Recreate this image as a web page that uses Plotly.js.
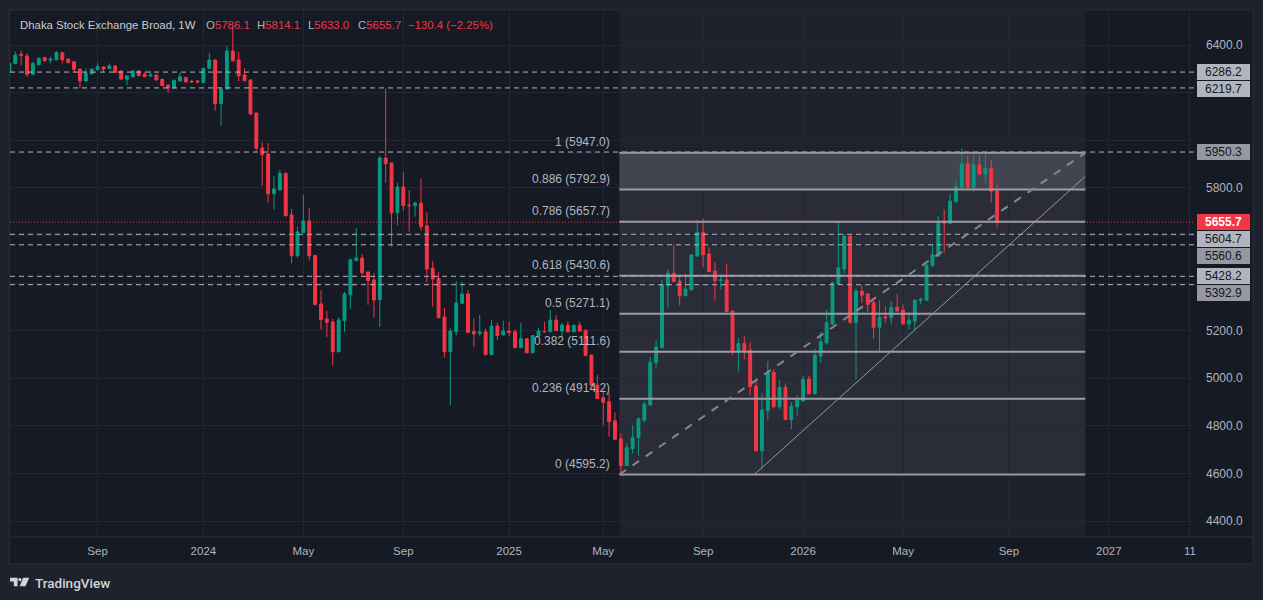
<!DOCTYPE html>
<html><head><meta charset="utf-8">
<script src="https://cdn.plot.ly/plotly-3.0.1.min.js"></script>
<style>html,body{margin:0;padding:0;background:#1e222d;overflow:hidden}#chart{width:1263px;height:600px}</style>
</head><body><div id="chart"></div>
<script>
// Weekly OHLC (Dhaka Stock Exchange Broad, 1W), bar 0 .. bar 168
const openP = [
6285,6322,6361,6354,6277,6317,6347,6336,6338,6368,6341,6330,6299,6249,6279,6296,6308,6301,6312,6291,6257,6266,6291,6277,6270,6274,6256,6232,6219,
6249,6264,6248,6249,6242,6301,6337,6154,6215,6375,6337,6274,6253,6114,5967,5942,5775,5791,5861,5686,5515,5612,5661,5516,
5312,5249,5236,5111,5242,5350,5494,5505,5446,5413,5329,5925,5904,5695,5803,5727,5725,5736,5640,5462,5420,5257,5111,5196,
5315,5354,5196,5188,5195,5099,5219,5182,5198,5195,5128,5166,5107,5178,5196,5195,5244,5198,5223,5195,5223,5202,5097,4971,4918,4901,4821,4745,4633,4704,
4750,4824,4887,5065,5128,5389,5441,5408,5347,5371,5513,5613,5522,5450,5410,5413,5282,5114,5146,5118,4967,4695,4863,5025,4880,4962,4827,4880,4905,
4997,4935,5093,5149,5227,5396,5459,5597,5235,5366,5354,5317,5214,5258,5254,5298,5286,5228,5240,5326,5328,5472,5513,5660,5651,5741,5801,5900,5801,5896,5858,5882,5786.1];
const highP = [
6323,6372,6376,6365,6330,6346,6350,6351,6375,6370,6343,6332,6300,6302,6300,6323,6310,6323,6314,6293,6270,6292,6293,6285,6291,6276,6258,6234,6253,
6285,6266,6252,6253,6304,6366,6339,6222,6396,6478,6371,6302,6255,6116,5991,5987,5850,5875,5863,5711,5637,5770,5714,5518,
5370,5282,5249,5256,5362,5504,5631,5522,5448,5443,5934,6218,5906,5821,5866,5791,5742,5838,5698,5492,5445,5295,5209,5408,
5406,5371,5252,5266,5209,5245,5233,5242,5238,5205,5233,5168,5181,5212,5238,5287,5266,5233,5238,5228,5238,5204,5099,5013,4955,4939,4856,4768,4726,4803,
4836,4901,5090,5160,5413,5457,5560,5424,5438,5522,5665,5672,5550,5487,5436,5480,5284,5170,5177,5151,4999,4939,5072,5037,4992,4978,4899,4929,5010,
5010,5125,5195,5289,5405,5653,5606,5599,5377,5391,5356,5328,5328,5303,5324,5354,5310,5277,5330,5340,5478,5564,5681,5707,5774,5828,5965,5934,5938,5938,5945,5917,5814.1];
const lowP = [
6280,6320,6315,6267,6272,6315,6330,6323,6336,6323,6324,6284,6218,6245,6277,6294,6285,6299,6283,6255,6231,6264,6269,6265,6267,6251,6227,6200,6217,
6247,6243,6240,6238,6240,6299,6124,6061,6213,6330,6249,6248,6106,5956,5809,5738,5708,5789,5679,5483,5507,5610,5494,5306,
5205,5174,5055,5109,5195,5291,5492,5434,5308,5254,5216,5821,5553,5641,5704,5616,5679,5620,5404,5301,5252,5086,4887,5180,
5312,5190,5130,5175,5097,5097,5161,5180,5177,5126,5126,5105,5105,5176,5193,5193,5198,5175,5193,5193,5196,5093,4967,4913,4803,4754,4741,4595.2,4631,4684,
4673,4813,4885,5044,5126,5296,5404,5305,5343,5369,5511,5466,5446,5326,5373,5278,5097,5027,5079,4927,4693,4617,4822,4873,4870,4825,4786,4843,4900,
4930,4930,5065,5140,5225,5394,5440,5228,4995,5317,5279,5165,5111,5233,5226,5279,5226,5205,5200,5310,5326,5470,5511,5527,5649,5739,5799,5799,5781,5856,5821,5739,5633.0];
const closeP = [
6323,6358,6357,6277,6322,6344,6334,6341,6368,6338,6326,6298,6249,6281,6299,6309,6299,6312,6285,6257,6270,6291,6271,6267,6274,6253,6229,6219,6252,
6267,6245,6245,6245,6302,6337,6154,6215,6375,6334,6271,6250,6110,5966,5939,5775,5795,5861,5683,5515,5614,5661,5515,5310,
5247,5235,5111,5245,5354,5497,5505,5443,5410,5329,5925,5901,5695,5803,5725,5725,5736,5637,5459,5417,5254,5111,5198,5316,
5354,5193,5186,5194,5099,5219,5179,5198,5191,5128,5166,5107,5179,5198,5195,5244,5200,5223,5195,5221,5198,5095,4969,4915,4899,4817,4743,4633,4708,4751,
4829,4891,5067,5131,5392,5441,5406,5347,5375,5518,5613,5519,5448,5410,5413,5280,5114,5146,5114,4964,4695,4866,5025,4880,4962,4827,4883,4908,4996,
4935,5097,5153,5233,5401,5464,5597,5235,5366,5349,5310,5214,5256,5254,5298,5282,5228,5244,5328,5331,5476,5518,5660,5651,5744,5805,5900,5801,5896,5858,5882,5786.1,5655.7];

// time axis (bar numbers where month labels sit) and labels
const timeTickBars   = [15, 33, 50, 67, 85, 101, 118, 135, 152, 170, 187, 200.8];
const timeTickLabels = ['Sep','2024','May','Sep','2025','May','Sep','2026','May','Sep','2027','11'];
const priceTicks = [4400,4600,4800,5000,5200,5400,5600,5800,6000,6200,6400];

// Fibonacci retracement drawing
const fibRatios = ['1','0.886','0.786','0.618','0.5','0.382','0.236','0'];
const fibPrices = [5947.0,5792.9,5657.7,5430.6,5271.1,5111.6,4914.2,4595.2];
const fibBars = [103.75, 183];
// horizontal user levels
const hLevels = [6286.2,6219.7,5950.3,5604.7,5560.6,5428.2,5392.9];
const hLevelBox = ['#b2b5be','#b2b5be','#9598a1','#b2b5be','#9598a1','#b2b5be','#9598a1'];
// trend line
const trendBars = [126.7, 183];
const trendPrices = [4595.2, 5848];
// header
const symbolName = 'Dhaka Stock Exchange Broad, 1W';
const lastO = 5786.1, lastH = 5814.1, lastL = 5633.0, lastC = 5655.7, chg = -130.4, chgPct = -2.25;

const barIdx = openP.map((_, i) => i);

const W = 1263, Ht = 600, PL = 10, PR = 1195, PT = 10, PB = 537;
const Y0 = 4332.8, Y1 = 6547.1;
const px2x = p => (p - PL) / (PR - PL);
const py2y = p => (PB - p) / (PB - PT);
const price2py = v => PT + (Y1 - v) / (Y1 - Y0) * (PB - PT);

const FONT = 'Liberation Sans, Arial, sans-serif';
const UP = '#089981', DN = '#f23645';

const trace = {
  type: 'candlestick',
  x: barIdx, open: openP, high: highP, low: lowP, close: closeP,
  increasing: {line: {color: UP, width: 1}, fillcolor: UP},
  decreasing: {line: {color: DN, width: 1}, fillcolor: DN},
  whiskerwidth: 0, hoverinfo: 'none', showlegend: false
};

const shapes = [];
shapes.push({type:'rect', xref:'paper', yref:'paper', x0:px2x(9.5), x1:px2x(1253), y0:py2y(564), y1:py2y(10),
  fillcolor:'#161a25', line:{color:'#2a2e39', width:1}, layer:'below'});
shapes.push({type:'rect', xref:'x', yref:'paper', x0:fibBars[0], x1:fibBars[1], y0:0, y1:1,
  fillcolor:'#1f222c', line:{width:0}, layer:'below'});
shapes.push({type:'rect', xref:'x', yref:'y', x0:fibBars[0], x1:fibBars[1], y0:fibPrices[7], y1:fibPrices[0],
  fillcolor:'#2a2d37', line:{width:0}, layer:'below'});
shapes.push({type:'rect', xref:'x', yref:'y', x0:fibBars[0], x1:fibBars[1], y0:fibPrices[1], y1:fibPrices[0],
  fillcolor:'#42454f', line:{width:0}, layer:'between'});
shapes.push({type:'line', xref:'paper', yref:'paper', x0:px2x(9.5), x1:px2x(1253), y0:py2y(537), y1:py2y(537),
  line:{color:'#2a2e39', width:1}, layer:'above'});
hLevels.forEach(p => shapes.push({type:'line', xref:'paper', yref:'y', x0:0, x1:1, y0:p, y1:p,
  line:{color:'#b2b5be', width:1, dash:'5px,4px'}, layer:'above'}));
shapes.push({type:'line', xref:'paper', yref:'y', x0:0, x1:1, y0:lastC, y1:lastC,
  line:{color:DN, width:1, dash:'1px,2px'}, layer:'above'});
fibPrices.forEach(p => shapes.push({type:'line', xref:'x', yref:'y', x0:fibBars[0], x1:fibBars[1], y0:p, y1:p,
  line:{color:'#9a9da6', width:2}, layer:'above'}));
shapes.push({type:'line', xref:'x', yref:'y', x0:fibBars[0], x1:fibBars[1], y0:fibPrices[7], y1:fibPrices[0],
  line:{color:'#858892', width:2, dash:'8px,8px'}, layer:'above'});
shapes.push({type:'line', xref:'x', yref:'y', x0:trendBars[0], x1:trendBars[1], y0:trendPrices[0], y1:trendPrices[1],
  line:{color:'#9598a1', width:1}, layer:'above'});
// TradingView logo glyph
const lg = [
  'M10,577.8 L17.6,577.8 L17.6,586.2 L13.8,586.2 L13.8,581.4 L10,581.4 Z',
  'M23.2,577.8 L29.3,577.8 L25.4,586.2 L19.6,586.2 Z'
];
lg.forEach(d => {
  const path = d.replace(/([ML])([\d.]+),([\d.]+)/g, (m, c, a, b) => c + px2x(+a).toFixed(5) + ',' + py2y(+b).toFixed(5));
  shapes.push({type:'path', xref:'paper', yref:'paper', path:path, fillcolor:'#d1d4dc', line:{width:0}, layer:'above'});
});
shapes.push({type:'circle', xref:'paper', yref:'paper', x0:px2x(18.3), x1:px2x(21.5), y0:py2y(581.2), y1:py2y(578),
  fillcolor:'#d1d4dc', line:{width:0}, layer:'above'});

const ann = [];
fibPrices.forEach((p, i) => ann.push({xref:'x', yref:'y', x:fibBars[0], y:p, xanchor:'right', yanchor:'bottom',
  xshift:-7, yshift:2, showarrow:false, text: fibRatios[i] + ' (' + p.toFixed(1) + ')',
  font:{family:FONT, size:12, color:'#b2b5be'}}));

// price-scale labels, stacked so they do not overlap (as the price scale does)
const scaleLabels = hLevels.map((p, i) => ({p: p, bg: hLevelBox[i], fg: '#131722', bold: false}));
scaleLabels.push({p: lastC, bg: DN, fg: '#ffffff', bold: true});
scaleLabels.sort((a, b) => b.p - a.p);
const STEP = 17;
let prevCy = -1e9;
const boxCenters = [];
scaleLabels.forEach(l => {
  const lineY = price2py(l.p);
  let cy = Math.max(lineY, prevCy + STEP);
  prevCy = cy;
  boxCenters.push(cy);
  ann.push({xref:'paper', yref:'y', x:px2x(1223.5), y:l.p, yshift: lineY - cy, xanchor:'center', yanchor:'middle',
    showarrow:false, text: l.bold ? '<b>' + l.p.toFixed(1) + '</b>' : l.p.toFixed(1),
    bgcolor:l.bg, borderwidth:0, width:50, height:13, borderpad:1.5,
    font:{family:FONT, size:12, color:l.fg}});
});
// tick labels that sit under a price-scale label are covered (not shown)
const priceTickText = priceTicks.map(v => {
  const ty = price2py(v);
  return boxCenters.some(c => Math.abs(c - ty) < 12) ? '' : v.toFixed(1);
});

// header legend
const hy = py2y(25);
const lab = (t, v) => '<span style="color:#b2b5be">' + t + '</span><span style="color:' + DN + '">' + v + '</span>';
const hdr = [
  [18, '<span style="color:#c9ccd4">' + symbolName + '</span>'],
  [204, lab('O', lastO.toFixed(1))],
  [255, lab('H', lastH.toFixed(1))],
  [306, lab('L', lastL.toFixed(1))],
  [356, lab('C', lastC.toFixed(1))],
  [406, '<span style="color:' + DN + '">\u2212' + Math.abs(chg).toFixed(1) + ' (\u2212' + Math.abs(chgPct).toFixed(2) + '%)</span>']
];
hdr.forEach(h => ann.push({xref:'paper', yref:'paper', x:px2x(h[0]), y:hy, xanchor:'left', yanchor:'middle',
  showarrow:false, text:h[1], font:{family:FONT, size:11.4, color:'#c9ccd4'}}));
ann.push({xref:'paper', yref:'paper', x:px2x(32.5), y:py2y(582.5), xanchor:'left', yanchor:'middle', showarrow:false,
  text:'TradingView', font:{family:'Roboto, ' + FONT, size:13.5, color:'#d1d4dc', weight:500}});

const layout = {
  width: W, height: Ht,
  margin: {l: PL, r: W - PR, t: PT, b: Ht - PB, pad: 0},
  paper_bgcolor: '#1e222d', plot_bgcolor: '#161a25',
  showlegend: false, hovermode: false, dragmode: false,
  xaxis: {
    type: 'linear', range: [0.102, 201.66], fixedrange: true,
    rangeslider: {visible: false},
    tickmode: 'array', tickvals: timeTickBars, ticktext: timeTickLabels,
    showgrid: true, gridcolor: '#232733', gridwidth: 1, zeroline: false, showline: false,
    ticks: '', ticklabelstandoff: 5,
    tickfont: {family: FONT, size: 11.5, color: '#b2b5be'}
  },
  yaxis: {
    side: 'right', type: 'linear', range: [Y0, Y1], fixedrange: true,
    tickmode: 'array', tickvals: priceTicks, ticktext: priceTickText,
    showgrid: true, gridcolor: '#232733', gridwidth: 1, zeroline: false, showline: false,
    ticks: '', ticklabelstandoff: 10,
    tickfont: {family: FONT, size: 12, color: '#b2b5be'}
  },
  shapes: shapes,
  annotations: ann
};

Plotly.newPlot('chart', [trace], layout, {staticPlot: true, displayModeBar: false});
</script>
</body></html>
